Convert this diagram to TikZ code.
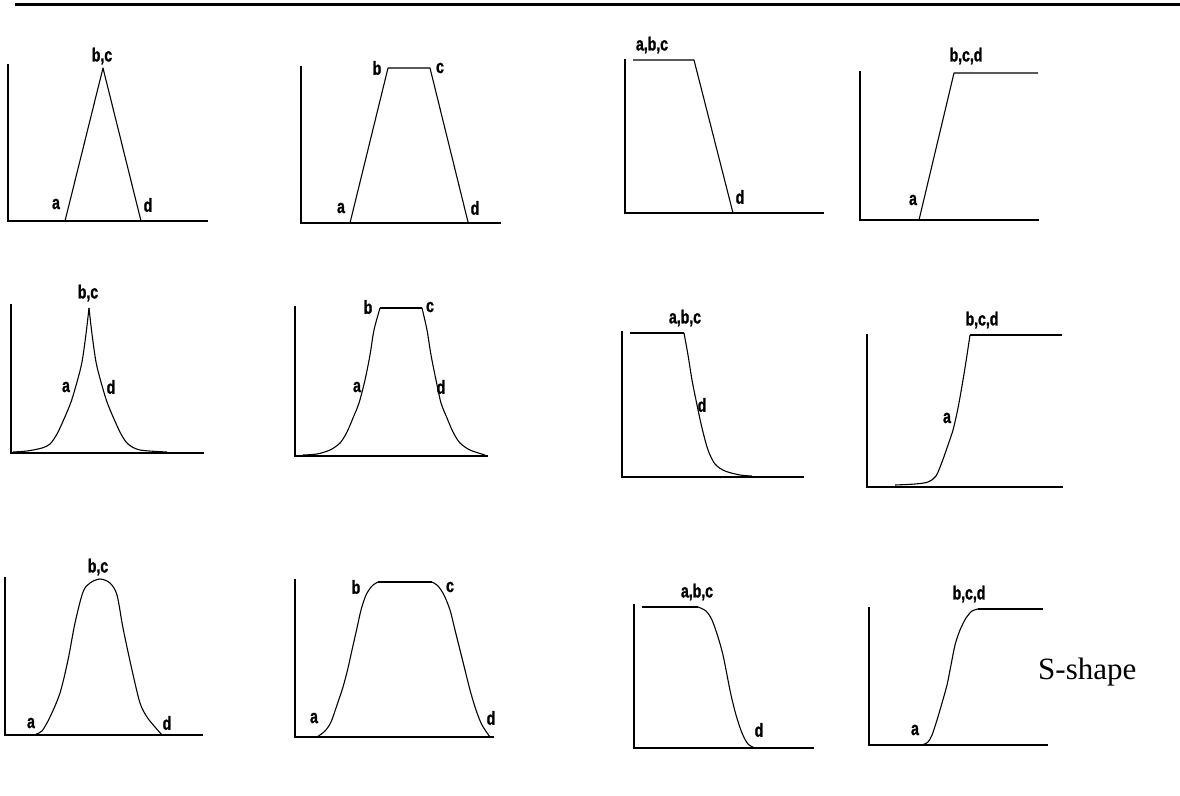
\documentclass[tikz,border=0pt]{standalone}
\usepackage{fontspec}
\newfontfamily\lab[FakeStretch=0.74,FakeBold=1.2]{Liberation Sans}
\newfontfamily\tnr{Liberation Serif}
\begin{document}
\begin{tikzpicture}[x=1pt,y=-1pt,
  axis/.style={line width=1.4pt,line cap=rect},
  curve/.style={line width=1.1pt,line join=round},
  lbl/.style={font=\lab\bfseries\fontsize{19}{19}\selectfont,inner sep=0pt},
  sm/.style={smooth,tension=0.5}]
\useasboundingbox (0,0) rectangle (1180,795);
\fill[white] (0,0) rectangle (1180,795);
% top rule
\draw[line width=3pt] (15,4) -- (1180,4);

% ---------- Row 1 ----------
% P1 triangle
\draw[axis] (8,65) -- (8,221) -- (207,221);
\draw[curve] (65,221) -- (103,68) -- (141,221);
\node[lbl] (p1bc) at (102,56) {b,c};
\node[lbl] (p1a) at (56,204) {a};
\node[lbl] (p1d) at (148,205) {d};

% P2 trapezoid
\draw[axis] (301,67) -- (301,223) -- (500,223);
\draw[curve] (350,223) -- (388,68) -- (430,68) -- (468,222);
\node[lbl] (p2b) at (377,68) {b};
\node[lbl] (p2c) at (440,68) {c};
\node[lbl] (p2a) at (341,208) {a};
\node[lbl] (p2d) at (475,208) {d};

% P3 Z-shape
\draw[axis] (625,60) -- (625,213) -- (823,213);
\draw[curve] (633,60) -- (694,60) -- (733,213);
\node[lbl] (p3abc) at (652,45) {a,b,c};
\node[lbl] (p3d) at (740,197) {d};

% P4 ramp up
\draw[axis] (860,72) -- (860,220) -- (1038,220);
\draw[curve] (919,220) -- (954,73) -- (1038,73);
\node[lbl] (p4bcd) at (966,56) {b,c,d};
\node[lbl] (p4a) at (913,200) {a};

% ---------- Row 2 ----------
% P5 peaked bell
\draw[axis] (11,305) -- (11,453) -- (203,453);
\draw[curve] plot[sm] coordinates {(13,452) (27,451) (42,448) (50,444) (57,434) (64,419) (71,402) (77,382) (82,362) (86,334) (89,308)};
\draw[curve] plot[sm] coordinates {(89,308) (92,334) (96,362) (101,382) (107,402) (114,419) (121,434) (128,444) (140,450) (167,452)};
\node[lbl] (p5bc) at (88,293) {b,c};
\node[lbl] (p5a) at (66,387) {a};
\node[lbl] (p5d) at (111,387) {d};

% P6 bell trapezoid
\draw[axis] (295,307) -- (295,456) -- (487,456);
\draw[curve] plot[sm] coordinates {(303,455) (317,454) (330,450) (340,443) (347,432) (353,418) (359,403) (365,380) (370,355) (374,330) (380,308)};
\draw[curve] (380,308) -- (422,308);
\draw[curve] plot[sm] coordinates {(422,308) (427,330) (431,355) (436,380) (441,403) (447,418) (453,432) (460,443) (470,450) (485,455)};
\node[lbl] (p6b) at (368,307) {b};
\node[lbl] (p6c) at (430,307) {c};
\node[lbl] (p6a) at (357,387) {a};
\node[lbl] (p6d) at (441,387) {d};

% P7 smooth Z
\draw[axis] (622,332) -- (622,477) -- (803,477);
\draw[curve] (630,333) -- (684,333);
\draw[curve] plot[sm] coordinates {(684,333) (688,355) (692,380) (697,405) (702,428) (708,450) (715,464) (725,471) (740,475) (752,476)};
\node[lbl] (p7abc) at (685,318) {a,b,c};
\node[lbl] (p7d) at (702,405) {d};

% P8 smooth ramp
\draw[axis] (867,335) -- (867,487) -- (1062,487);
\draw[curve] plot[sm] coordinates {(895,485) (915,484) (928,482) (936,476) (942,462) (948,445) (953,430) (958,408) (963,380) (967,355) (970,335)};
\draw[curve] (970,335) -- (1062,335);
\node[lbl] (p8bcd) at (982,320) {b,c,d};
\node[lbl] (p8a) at (947,418) {a};

% ---------- Row 3 ----------
% P9 gaussian
\draw[axis] (5,578) -- (5,735) -- (202,735);
\draw[curve] plot[sm] coordinates {(36,734) (42,731) (50,717) (60,693) (68,660) (75,623) (83,592) (90,583) (100,579) (110,583) (117,595) (123,628) (132,670) (140,703) (147,717) (155,727) (162,735)};
\node[lbl] (p9bc) at (98,567) {b,c};
\node[lbl] (p9a) at (31,723) {a};
\node[lbl] (p9d) at (167,723) {d};

% P10 gaussian trapezoid
\draw[axis] (295,580) -- (295,737) -- (493,737);
\draw[curve] plot[sm] coordinates {(317,737) (325,731) (331,722) (337,705) (343,687) (348,668) (352,650) (357,628) (361,610) (366,595) (372,586) (378,582)};
\draw[curve] (378,582) -- (432,582);
\draw[curve] plot[sm] coordinates {(432,582) (438,586) (444,595) (450,610) (455,630) (460,650) (465,670) (470,690) (476,710) (482,725) (490,737)};
\node[lbl] (p10b) at (356,587) {b};
\node[lbl] (p10c) at (450,587) {c};
\node[lbl] (p10a) at (314,718) {a};
\node[lbl] (p10d) at (491,718) {d};

% P11 Z sigmoid
\draw[axis] (634,605) -- (634,748) -- (813,748);
\draw[curve] (642,607) -- (698,607);
\draw[curve] plot[sm] coordinates {(698,607) (706,611) (712,620) (718,637) (723,655) (727,675) (731,695) (736,715) (742,733) (748,744) (755,748)};
\node[lbl] (p11abc) at (697,592) {a,b,c};
\node[lbl] (p11d) at (759,730) {d};

% P12 S sigmoid
\draw[axis] (869,608) -- (869,745) -- (1047,745);
\draw[curve] plot[sm] coordinates {(922,745) (928,742) (932,735) (937,720) (942,703) (947,685) (951,665) (955,645) (960,630) (966,618) (972,611) (978,609)};
\draw[curve] (978,609) -- (1043,609);
\node[lbl] (p12bcd) at (969,594) {b,c,d};
\node[lbl] (p12a) at (915,730) {a};

\node[font=\tnr\fontsize{31}{31}\selectfont,inner sep=0pt,anchor=base west] (sshape) at (1038,679) {S-shape};
\end{tikzpicture}
\end{document}
